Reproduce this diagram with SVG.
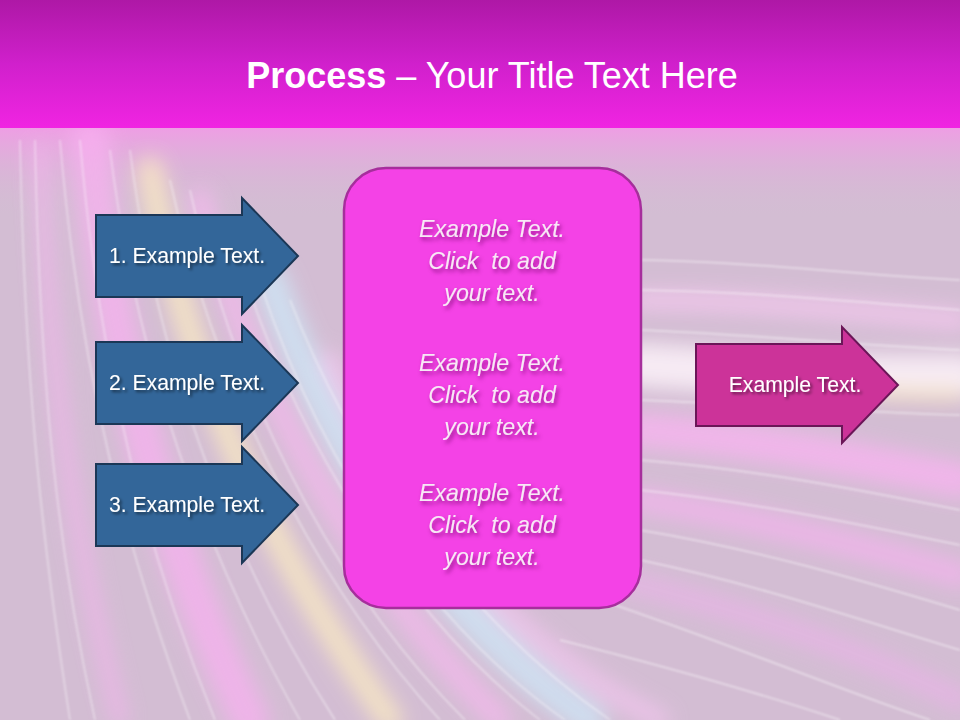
<svg xmlns="http://www.w3.org/2000/svg" width="960" height="720" viewBox="0 0 960 720">
  <defs>
    <linearGradient id="topband" x1="0" y1="0" x2="0" y2="1">
      <stop offset="0" stop-color="#AE18A6"/>
      <stop offset="0.5" stop-color="#D020CC"/>
      <stop offset="1" stop-color="#F024E2"/>
    </linearGradient>
    <linearGradient id="bgfade" x1="0" y1="0" x2="0" y2="1">
      <stop offset="0" stop-color="#EE9EE4"/>
      <stop offset="1" stop-color="#D3BDD3" stop-opacity="0"/>
    </linearGradient>
    <filter id="blur10" x="-30%" y="-30%" width="160%" height="160%">
      <feGaussianBlur stdDeviation="10"/>
    </filter>
    <filter id="blur2" x="-20%" y="-20%" width="140%" height="140%">
      <feGaussianBlur stdDeviation="1.2"/>
    </filter>
    <filter id="tshadow" x="-10%" y="-30%" width="120%" height="160%">
      <feDropShadow dx="2" dy="2" stdDeviation="1.5" flood-color="#000000" flood-opacity="0.55"/>
    </filter>
    <filter id="bshadow" x="-10%" y="-30%" width="120%" height="160%">
      <feDropShadow dx="2" dy="3" stdDeviation="2" flood-color="#6A0A60" flood-opacity="0.7"/>
    </filter>
    <path id="arrowShape" d="M0,-41 H146 V-58 L202,0 L146,58 V41 H0 Z"/>
    <style>
      .larrow { fill: #336699; stroke: #1B3756; stroke-width: 2; }
      .rarrow { fill: #CC3399; stroke: #6B1658; stroke-width: 2; }
      .box { fill: #F442E6; stroke: #A62E9C; stroke-width: 2.5; }
      .albl { font-family: "Liberation Sans", Arial, sans-serif; font-size: 21.2px; fill: #FFFFFF; text-anchor: middle; }
      .btxt { font-family: "Liberation Sans", Arial, sans-serif; font-size: 23.2px; font-style: italic; fill: #F8E8F6; text-anchor: middle; }
      .title { font-family: "Liberation Sans", Arial, sans-serif; font-size: 36px; fill: #FFFFFF; text-anchor: middle; }
      .streak { fill: none; stroke-linecap: round; }
      .thin { fill: none; stroke: #FFFFFF; stroke-width: 1.5; }
    </style>
  </defs>

  <!-- background -->
  <g id="background">
    <rect x="0" y="0" width="960" height="720" fill="#D3BDD3"/>
    <rect x="0" y="128" width="960" height="90" fill="url(#bgfade)"/>
    <!-- left fan of streaks -->
    <g filter="url(#blur10)" opacity="0.7">
      <path class="streak" d="M90,140 C110,360 170,560 250,720" stroke="#FAB0F2" stroke-width="40"/>
      <path class="streak" d="M150,170 C190,400 290,580 390,720" stroke="#FFF0C0" stroke-width="26"/>
      <path class="streak" d="M200,200 C260,420 380,600 500,720" stroke="#F8B8F0" stroke-width="24"/>
      <path class="streak" d="M270,280 C340,480 460,630 590,720" stroke="#CDEBFA" stroke-width="34"/>
      <path class="streak" d="M40,150 C50,400 80,560 120,720" stroke="#F4B4EE" stroke-width="16"/>
      <path class="streak" d="M330,360 C400,520 520,650 660,720" stroke="#F6C6F2" stroke-width="20"/>
    </g>
    <g filter="url(#blur2)" opacity="0.45">
      <path class="thin" d="M60,140 C80,380 130,560 190,720"/>
      <path class="thin" d="M80,140 C100,380 150,560 215,720"/>
      <path class="thin" d="M110,150 C140,390 220,580 300,720"/>
      <path class="thin" d="M130,150 C160,390 245,580 335,720"/>
      <path class="thin" d="M170,180 C220,410 330,600 440,720"/>
      <path class="thin" d="M190,190 C240,420 350,605 465,720"/>
      <path class="thin" d="M230,230 C290,440 410,620 540,720"/>
      <path class="thin" d="M250,250 C310,455 430,625 565,720"/>
      <path class="thin" d="M290,300 C360,480 480,630 610,720"/>
      <path class="thin" d="M20,140 C25,400 45,560 70,720"/>
      <path class="thin" d="M35,140 C40,400 60,560 95,720"/>
    </g>
    <!-- right horizontal sweep -->
    <g filter="url(#blur10)" opacity="0.8">
      <path class="streak" d="M640,365 C740,372 850,378 960,376" stroke="#FFF6FC" stroke-width="44"/>
      <path class="streak" d="M640,300 C740,300 850,310 960,320" stroke="#F6C8F0" stroke-width="20"/>
      <path class="streak" d="M640,430 C760,440 860,460 960,480" stroke="#F8B4F0" stroke-width="36"/>
      <path class="streak" d="M640,500 C760,520 860,545 960,575" stroke="#F2B4EC" stroke-width="26"/>
      <path class="streak" d="M620,580 C740,610 860,650 960,700" stroke="#E8B4E6" stroke-width="22"/>
      <path class="streak" d="M880,392 C910,394 940,394 960,394" stroke="#FFF0C4" stroke-width="12"/>
    </g>
    <g filter="url(#blur2)" opacity="0.5">
      <path class="thin" d="M640,260 C760,262 860,275 960,280"/>
      <path class="thin" d="M640,290 C760,292 860,302 960,310"/>
      <path class="thin" d="M640,330 C760,335 860,345 960,350"/>
      <path class="thin" d="M640,400 C760,405 860,412 960,415"/>
      <path class="thin" d="M640,460 C760,470 860,490 960,510"/>
      <path class="thin" d="M640,490 C760,503 860,525 960,545"/>
      <path class="thin" d="M640,530 C760,550 860,580 960,610"/>
      <path class="thin" d="M600,600 C720,640 840,690 930,720"/>
      <path class="thin" d="M640,560 C760,585 860,620 960,650"/>
      <path class="thin" d="M560,640 C680,670 780,700 840,720"/>
    </g>
    <rect x="0" y="0" width="960" height="128" fill="url(#topband)"/>
  </g>

  <g id="title">
    <text class="title" x="492" y="88"><tspan font-weight="bold">Process</tspan> – Your Title Text Here</text>
  </g>

  <g id="step1">
    <use href="#arrowShape" class="larrow" transform="translate(96,256)"/>
    <text class="albl" x="187" y="263" filter="url(#tshadow)">1. Example Text.</text>
  </g>
  <g id="step2">
    <use href="#arrowShape" class="larrow" transform="translate(96,383)"/>
    <text class="albl" x="187" y="390" filter="url(#tshadow)">2. Example Text.</text>
  </g>
  <g id="step3">
    <use href="#arrowShape" class="larrow" transform="translate(96,505)"/>
    <text class="albl" x="187" y="512" filter="url(#tshadow)">3. Example Text.</text>
  </g>

  <g id="centerbox">
    <rect class="box" x="344" y="168" width="297" height="440" rx="42" ry="42"/>
    <g filter="url(#bshadow)">
      <text class="btxt" x="492" y="237">Example Text.</text>
      <text class="btxt" x="492" y="269">Click&#160; to add</text>
      <text class="btxt" x="492" y="301">your text.</text>
      <text class="btxt" x="492" y="371">Example Text.</text>
      <text class="btxt" x="492" y="403">Click&#160; to add</text>
      <text class="btxt" x="492" y="435">your text.</text>
      <text class="btxt" x="492" y="501">Example Text.</text>
      <text class="btxt" x="492" y="533">Click&#160; to add</text>
      <text class="btxt" x="492" y="565">your text.</text>
    </g>
  </g>

  <g id="result">
    <use href="#arrowShape" class="rarrow" transform="translate(696,385)"/>
    <text class="albl" x="795" y="392" filter="url(#tshadow)">Example Text.</text>
  </g>

  <g id="connectors"></g>
</svg>
